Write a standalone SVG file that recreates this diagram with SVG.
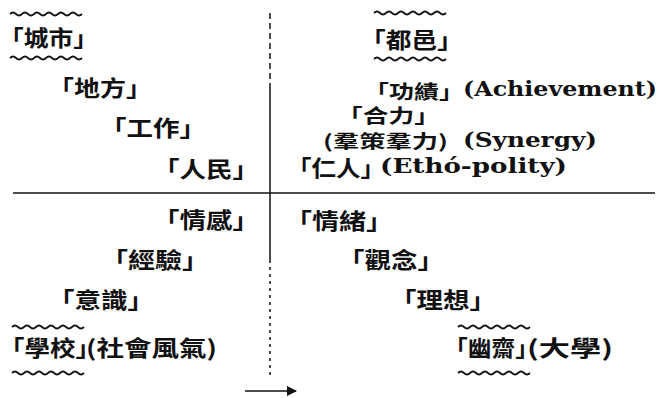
<svg xmlns="http://www.w3.org/2000/svg" xmlns:xlink="http://www.w3.org/1999/xlink" width="660" height="398" viewBox="0 0 660 398">
<style>
.cjk{font-family:"Noto Sans CJK TC","Noto Sans CJK JP",sans-serif;font-size:22px;font-weight:bold;fill:#111}
.cjm{font-family:"Noto Sans CJK TC","Noto Sans CJK JP",sans-serif;font-size:19px;font-weight:bold;fill:#111}
.cjs{font-family:"Noto Sans CJK TC","Noto Sans CJK JP",sans-serif;font-size:18px;font-weight:bold;fill:#111}
.lat{font-family:"DejaVu Serif","Liberation Serif",serif;font-size:20px;font-weight:bold;fill:#111}
.wave{fill:none;stroke:#111;stroke-width:1.8}
.axis{fill:none;stroke:#111;stroke-width:1.5}
</style>
<defs>
<path id="wv" class="wave" d="M0 0 q3 -3 6 0 t6 0 t6 0 t6 0 t6 0 t6 0 t6 0 t6 0 t6 0 t6 0 t6 0 t6 0"/>
<marker id="ah" viewBox="0 0 10 10" refX="9" refY="5" markerWidth="10" markerHeight="10" orient="auto" markerUnits="userSpaceOnUse">
<path d="M0 0 L10 5 L0 10 z" fill="#111"/>
</marker>
</defs>
<rect width="660" height="398" fill="#fff"/>
<g id="connectors">
<line class="axis" x1="270" y1="13" x2="270" y2="85" stroke-dasharray="6 4"/>
<line class="axis" x1="270" y1="85" x2="270" y2="260"/>
<line class="axis" x1="270" y1="260" x2="270" y2="377" stroke-dasharray="3 4"/>
<line class="axis" x1="13" y1="193" x2="655" y2="193"/>
<line class="axis" x1="245" y1="391" x2="296" y2="391" stroke-width="2" marker-end="url(#ah)"/>
</g>
<g id="n-chengshi">
<use xlink:href="#wv" x="10" y="14"/>
<text class="cjk" x="-1" y="46" textLength="99" lengthAdjust="spacingAndGlyphs">「城市」</text>
<use xlink:href="#wv" x="10" y="58"/>
</g>
<g id="n-difang"><text class="cjk" x="48" y="96" textLength="104" lengthAdjust="spacingAndGlyphs">「地方」</text></g>
<g id="n-gongzuo"><text class="cjk" x="100" y="136" textLength="106" lengthAdjust="spacingAndGlyphs">「工作」</text></g>
<g id="n-renmin"><text class="cjk" x="153" y="177" textLength="106" lengthAdjust="spacingAndGlyphs">「人民」</text></g>
<g id="n-duyi">
<use xlink:href="#wv" x="374" y="13"/>
<text class="cjk" x="360" y="48" textLength="103" lengthAdjust="spacingAndGlyphs">「都邑」</text>
<use xlink:href="#wv" x="374" y="59"/>
</g>
<g id="n-gongji">
<text class="cjm" x="364" y="99" textLength="100" lengthAdjust="spacingAndGlyphs">「功績」</text>
<text class="lat" x="463" y="96" textLength="194" lengthAdjust="spacingAndGlyphs">(Achievement)</text>
</g>
<g id="n-heli">
<text class="cjm" x="337" y="123" textLength="103" lengthAdjust="spacingAndGlyphs">「合力」</text>
<text class="cjs" x="323" y="148" textLength="125" lengthAdjust="spacingAndGlyphs">(羣策羣力)</text>
<text class="lat" x="463" y="147" textLength="134" lengthAdjust="spacingAndGlyphs">(Synergy)</text>
</g>
<g id="n-renren">
<text class="cjk" x="287" y="176" textLength="98" lengthAdjust="spacingAndGlyphs">「仁人」</text>
<text class="lat" x="380" y="173" textLength="187" lengthAdjust="spacingAndGlyphs">(Ethó-polity)</text>
</g>
<g id="n-qinggan"><text class="cjk" x="153" y="228" textLength="106" lengthAdjust="spacingAndGlyphs">「情感」</text></g>
<g id="n-jingyan"><text class="cjk" x="101" y="268" textLength="108" lengthAdjust="spacingAndGlyphs">「經驗」</text></g>
<g id="n-yishi"><text class="cjk" x="48" y="308" textLength="106" lengthAdjust="spacingAndGlyphs">「意識」</text></g>
<g id="n-xuexiao">
<use xlink:href="#wv" x="12" y="327"/>
<text class="cjk" x="-1" y="356" textLength="102" lengthAdjust="spacingAndGlyphs">「學校」</text>
<text class="cjk" x="86" y="356" textLength="131" lengthAdjust="spacingAndGlyphs">(社會風氣)</text>
<use xlink:href="#wv" x="12" y="373"/>
</g>
<g id="n-qingxu"><text class="cjk" x="285" y="229" textLength="108" lengthAdjust="spacingAndGlyphs">「情緒」</text></g>
<g id="n-guannian"><text class="cjk" x="338" y="268" textLength="106" lengthAdjust="spacingAndGlyphs">「觀念」</text></g>
<g id="n-lixiang"><text class="cjk" x="390" y="308" textLength="106" lengthAdjust="spacingAndGlyphs">「理想」</text></g>
<g id="n-youzhai">
<use xlink:href="#wv" x="458" y="327"/>
<text class="cjk" x="444" y="356" textLength="95" lengthAdjust="spacingAndGlyphs">「幽齋」</text>
<text class="cjk" x="527" y="356" textLength="86" lengthAdjust="spacingAndGlyphs">(大學)</text>
<use xlink:href="#wv" x="458" y="373"/>
</g>
</svg>
